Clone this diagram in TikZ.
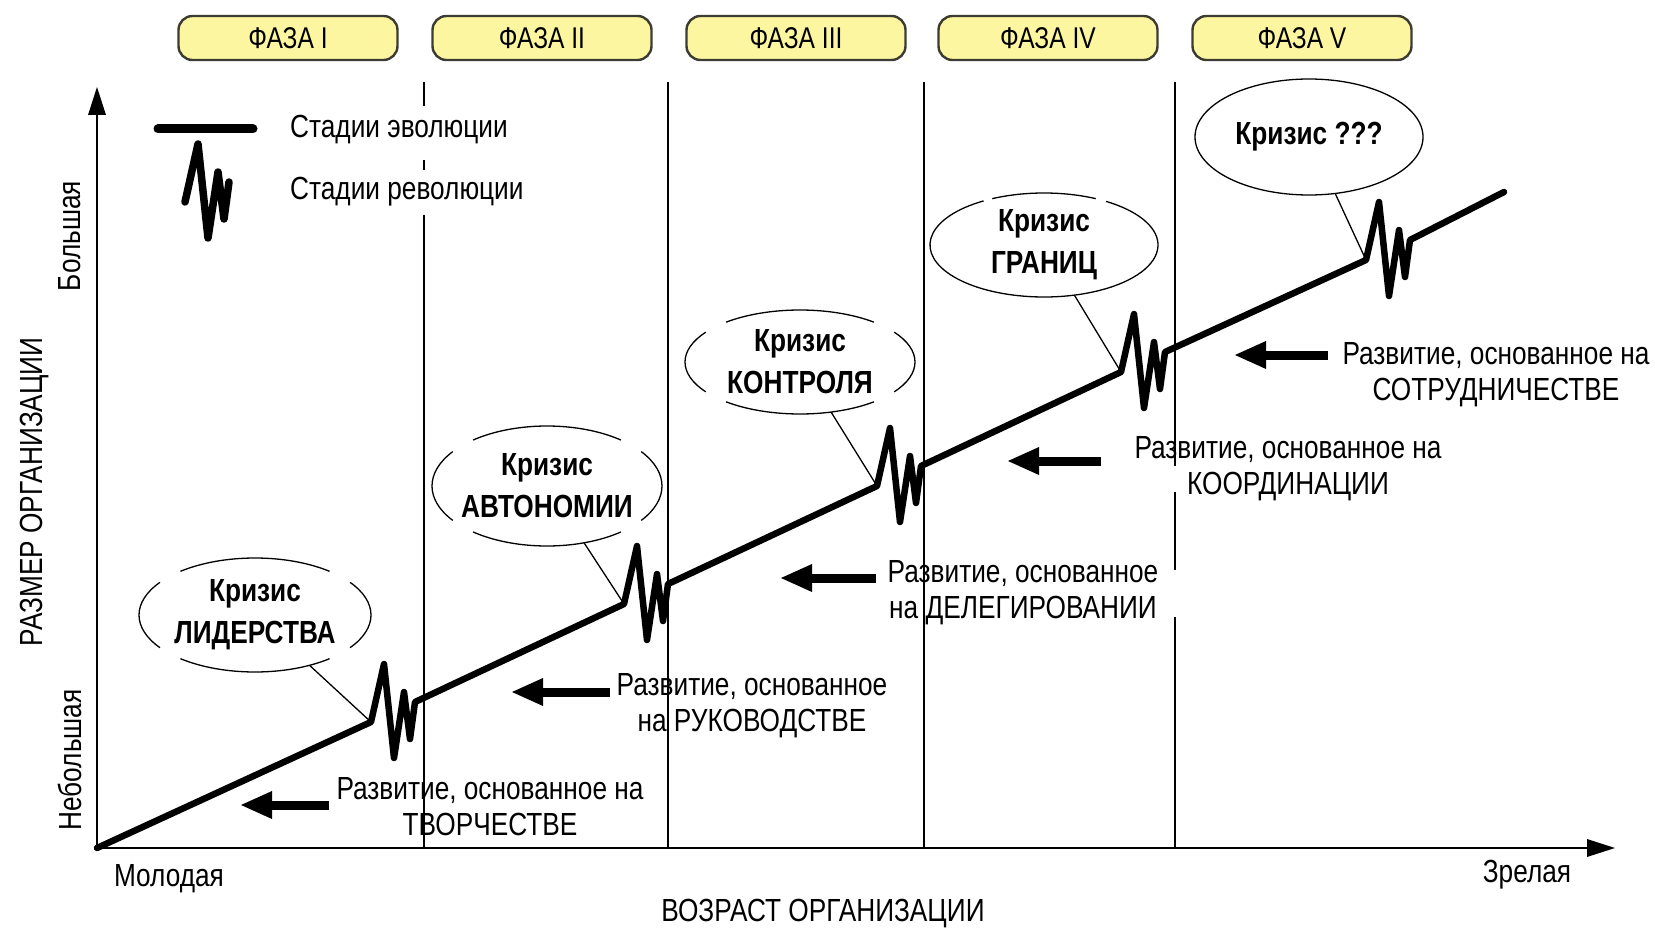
\documentclass[tikz,border=0pt]{standalone}
\usepackage{fontspec}
\setmainfont{Liberation Sans}[FakeStretch=0.82]
\usetikzlibrary{arrows.meta,calc,shapes.geometric}

\definecolor{phasefill}{RGB}{252,246,160}
\definecolor{phaseedge}{RGB}{60,60,50}

\newcommand\txtsize{\fontsize{32}{36}\selectfont}
% ellipse outline drawn as arcs (center node, x radius, y radius, list of start/end angles)
\newcommand\arcellipse[4]{%
  \foreach \s/\e in {#4}
    \draw[ptr] ($(#1.center)+(\s:#2pt and #3pt)$) arc[start angle=\s, end angle=\e, x radius=#2pt, y radius=#3pt];
}

\begin{document}
\begin{tikzpicture}[x=1pt,y=-1pt,
  phase/.style={draw=phaseedge, line width=2.4pt, fill=phasefill, rounded corners=14pt,
    minimum width=219pt, minimum height=44pt, inner sep=0pt, font=\fontsize{30}{34}\selectfont},
  grid/.style={line width=1.6pt},
  axis/.style={line width=2.2pt, -{Triangle[length=28pt,width=18pt,line width=0pt]}},
  evo/.style={line width=6.5pt, line join=round, line cap=round},
  ptr/.style={line width=1.3pt},
  crisis/.style={ellipse, inner sep=0pt, align=center, font=\bfseries\fontsize{32}{42}\selectfont},
  devtxt/.style={align=center, font=\txtsize, inner sep=0pt},
  devarrow/.style={line width=9pt, -{Triangle[length=31pt,width=28pt,line width=0pt]}},
  lbl/.style={font=\txtsize, inner sep=0pt},
  zig/.style={insert path={-- ($(#1)+(-9,-48)$) -- ($(#1)+(1,46)$) -- ($(#1)+(11,-20)$)
    -- ($(#1)+(17,27)$) -- ($(#1)+(22,-10)$)}}
]
\useasboundingbox (0,0) rectangle (1655,931);

% phase headers
\node[phase] (f1) at (288,38) {ФАЗА I};
\node[phase] (f2) at (542,38) {ФАЗА II};
\node[phase] (f3) at (796,38) {ФАЗА III};
\node[phase] (f4) at (1048,38) {ФАЗА IV};
\node[phase] (f5) at (1302,38) {ФАЗА V};

% phase boundaries
\draw[grid] (424,82) -- (424,106) (424,160) -- (424,170) (424,215) -- (424,848);
\draw[grid] (668,82) -- (668,848);
\draw[grid] (924,82) -- (924,848);
\draw[grid] (1175,82) -- (1175,466) (1175,492) -- (1175,570) (1175,617) -- (1175,848);

% axes
\coordinate (O) at (97,848);
\coordinate (ytip) at (97,87);
\coordinate (xtip) at (1615,848);
\draw[axis] (O) -- (ytip);
\draw[axis] (O) -- (xtip);

% growth line with revolution zigzags
\coordinate (z1) at (393,712);
\coordinate (z2) at (646,594);
\coordinate (z3) at (899,476);
\coordinate (z4) at (1143,362);
\coordinate (z5) at (1388,250);
\coordinate (lend) at (1504,192);
\foreach \i in {1,...,5} \coordinate (z\i s) at ($(z\i)+(-22,10)$);
\draw[evo] (O) -- (z1s) [zig=z1] -- (z2s) [zig=z2] -- (z3s) [zig=z3]
  -- (z4s) [zig=z4] -- (z5s) [zig=z5] -- (lend);

% crises
\node[crisis, minimum width=232pt, minimum height=114pt] (c1) at (255,615) {Кризис\\ЛИДЕРСТВА};
\node[crisis, minimum width=230pt, minimum height=120pt] (c2) at (547,486) {Кризис\\АВТОНОМИИ};
\node[crisis, minimum width=230pt, minimum height=104pt] (c3) at (800,362) {Кризис\\КОНТРОЛЯ};
\node[crisis, minimum width=228pt, minimum height=104pt] (c4) at (1044,245) {Кризис\\ГРАНИЦ};
\node[crisis, minimum width=228pt, minimum height=116pt] (c5) at (1309,137) {Кризис ???};
\arcellipse{c1}{116}{57}{-35/35,50/130,145/215,230/310}
\arcellipse{c2}{115}{60}{-35/35,50/130,145/215,230/310}
\arcellipse{c3}{115}{52}{-35/35,50/130,145/215,230/310}
\arcellipse{c4}{114}{52}{63/117,122/417}
\arcellipse{c5}{114}{58}{0/360}
\foreach \i in {1,...,5} \draw[ptr] (c\i) -- (z\i s);

% evolution phases
\node[devtxt] (d1) at (490,807) {Развитие, основанное на\\ТВОРЧЕСТВЕ};
\node[devtxt] (d2) at (752,706) {Развитие, основанное\\на РУКОВОДСТВЕ};
\node[devtxt] (d3) at (1023,593) {Развитие, основанное\\на ДЕЛЕГИРОВАНИИ};
\node[devtxt] (d4) at (1288,469) {Развитие, основанное на\\КООРДИНАЦИИ};
\node[devtxt] (d5) at (1496,375) {Развитие, основанное на\\СОТРУДНИЧЕСТВЕ};
\coordinate (a1s) at (329,805); \coordinate (a1e) at (241,805);
\coordinate (a2s) at (610,692); \coordinate (a2e) at (512,692);
\coordinate (a3s) at (876,578); \coordinate (a3e) at (781,578);
\coordinate (a4s) at (1101,461); \coordinate (a4e) at (1008,461);
\coordinate (a5s) at (1328,355); \coordinate (a5e) at (1235,355);
\foreach \i in {1,...,5} \draw[devarrow] (a\i s) -- (a\i e);

% legend
\coordinate (la) at (158,129);
\coordinate (lb) at (253,129);
\draw[line width=9pt, line cap=round] (la) -- (lb);
\coordinate (lz) at (207,192);
\draw[evo, line width=7.5pt] ($(lz)+(-22,10)$) [zig=lz];
\node[lbl, anchor=west] (leg1) at (290,130) {Стадии эволюции};
\node[lbl, anchor=west] (leg2) at (290,192) {Стадии революции};

% axis labels
\node[lbl] (young) at (169,879) {Молодая};
\node[lbl] (mature) at (1527,875) {Зрелая};
\node[lbl] (age) at (823,914) {ВОЗРАСТ ОРГАНИЗАЦИИ};
\node[lbl, rotate=90] (size) at (35,492) {РАЗМЕР ОРГАНИЗАЦИИ};
\node[lbl, rotate=90] (big) at (70,236) {Большая};
\node[lbl, rotate=90] (small) at (70,760) {Небольшая};
\end{tikzpicture}
\end{document}
